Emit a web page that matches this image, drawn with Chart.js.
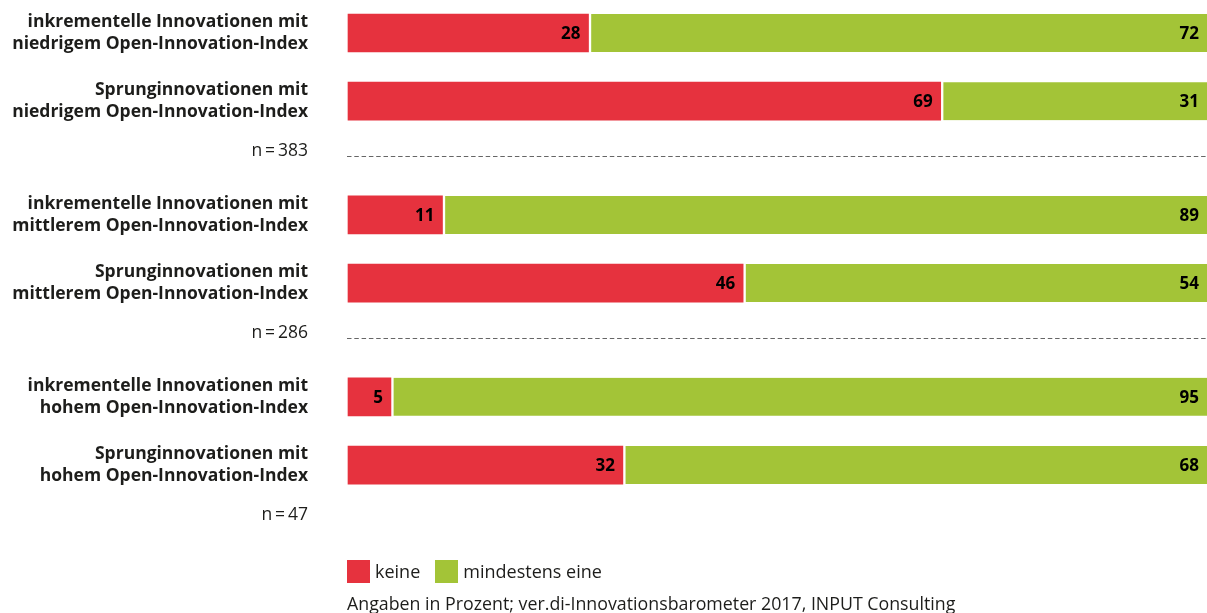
<!DOCTYPE html>
<html>
<head>
<meta charset="utf-8">
<script src="https://cdn.jsdelivr.net/npm/chart.js@4.4.1/dist/chart.umd.min.js"></script>
<style>
    body { margin: 0; background: #fff; font-family: "Open Sans", sans-serif; color: #1d1d1b; }
    #wrap { position: relative; width: 1207px; height: 613px; overflow: hidden; }
    #legend { position: absolute; left: 347px; top: 559px; display: flex; align-items: center; font-size: 18px; }
    #legend .box { width: 23px; height: 23px; margin-right: 5px; }
    #legend .item { display: flex; align-items: center; margin-right: 15px; }
    #source { position: absolute; left: 347px; top: 592px; font-size: 17.8px; line-height: 22px; white-space: nowrap; }
</style>
</head>
<body>
<div id="wrap">
    <canvas id="chart"></canvas>
    <div id="legend"></div>
    <div id="source">Angaben in Prozent; ver.di-Innovationsbarometer 2017, INPUT Consulting</div>
</div>
<script>
var categories = [
    ['inkrementelle Innovationen mit', 'niedrigem Open-Innovation-Index'],
    ['Sprunginnovationen mit', 'niedrigem Open-Innovation-Index'],
    ['inkrementelle Innovationen mit', 'mittlerem Open-Innovation-Index'],
    ['Sprunginnovationen mit', 'mittlerem Open-Innovation-Index'],
    ['inkrementelle Innovationen mit', 'hohem Open-Innovation-Index'],
    ['Sprunginnovationen mit', 'hohem Open-Innovation-Index']
];
var keine = [28, 69, 11, 46, 5, 32];
var mindestens = [72, 31, 89, 54, 95, 68];
var sampleSizes = ['n\u2009=\u2009383', 'n\u2009=\u2009286', 'n\u2009=\u200947'];

var seriesNames = ['keine', 'mindestens eine'];
var seriesColors = ['#e6323e', '#a3c437'];

// each group of two bars takes 8 slots on the category axis (bar, gap, gap, bar, rest for n= and spacing)
var slotCount = 22;
var barSlots = [];
for (let g = 0; g < 3; g++) {
    barSlots.push(g * 8, g * 8 + 3);
}

var labels = [];
var keineData = [];
var mindestensData = [];
for (let i = 0; i < slotCount; i++) {
    let k = barSlots.indexOf(i);
    labels.push(k >= 0 ? categories[k] : '');
    keineData.push(k >= 0 ? keine[k] : null);
    mindestensData.push(k >= 0 ? mindestens[k] : null);
}

var groupPlugin = {
    id: 'groups',
    afterDatasetsDraw: function (chart) {
        let ctx = chart.ctx;
        let y = chart.scales.y;
        let area = chart.chartArea;
        ctx.save();
        for (let g = 0; g < sampleSizes.length; g++) {
            let last = g * 8 + 3;
            ctx.font = '17.5px "Open Sans"';
            ctx.fillStyle = '#1d1d1b';
            ctx.textAlign = 'right';
            ctx.textBaseline = 'middle';
            ctx.fillText(sampleSizes[g], 308, y.getPixelForValue(last + 2.2));

            if (g < sampleSizes.length - 1) {
                let ly = Math.round(y.getPixelForValue(last + 2.4)) + 0.5;
                ctx.beginPath();
                ctx.setLineDash([4.5, 2.8]);
                ctx.strokeStyle = '#666666';
                ctx.lineWidth = 1;
                ctx.moveTo(area.left - 1, ly);
                ctx.lineTo(area.right, ly);
                ctx.stroke();
                ctx.setLineDash([]);
            }
        }

        // value labels at the end of each segment
        ctx.font = 'bold 17px "Open Sans"';
        ctx.fillStyle = '#000';
        ctx.textAlign = 'right';
        ctx.textBaseline = 'middle';
        chart.data.datasets.forEach(function (ds, di) {
            let meta = chart.getDatasetMeta(di);
            meta.data.forEach(function (bar, i) {
                if (ds.data[i] == null) return;
                ctx.fillText(ds.data[i], Math.min(bar.x, 1207) - 8, bar.y + 1);
            });
        });
        ctx.restore();
    }
};

var chart = new Chart(document.getElementById('chart'), {
    type: 'bar',
    data: {
        labels: labels,
        datasets: [
            {
                label: seriesNames[0],
                data: keineData,
                backgroundColor: seriesColors[0],
                borderWidth: 0,
                barThickness: 38,
                clip: false
            },
            {
                label: seriesNames[1],
                data: mindestensData,
                backgroundColor: seriesColors[1],
                borderColor: '#ffffff',
                borderWidth: { left: 3, right: 0, top: 0, bottom: 0 },
                borderSkipped: false,
                barThickness: 38,
                clip: false
            }
        ]
    },
    options: {
        indexAxis: 'y',
        responsive: true,
        maintainAspectRatio: false,
        animation: false,
        layout: { padding: { top: 21.6, bottom: 91.1, left: 0, right: -1 } },
        plugins: {
            legend: { display: false },
            tooltip: { enabled: false }
        },
        scales: {
            x: {
                stacked: true,
                min: 0,
                max: 100,
                display: false
            },
            y: {
                stacked: true,
                grid: {
                    display: true,
                    drawOnChartArea: false,
                    drawTicks: true,
                    tickLength: 40,
                    color: 'rgba(0,0,0,0)'
                },
                border: { display: false },
                afterFit: function (scale) { scale.width = 348; },
                ticks: {
                    autoSkip: false,
                    padding: 0,
                    color: '#1d1d1b',
                    font: { family: '"Open Sans"', size: 17.5, weight: 'bold', lineHeight: 1.26 }
                }
            }
        }
    },
    plugins: [groupPlugin]
});

var legend = document.getElementById('legend');
chart.data.datasets.forEach(function (ds) {
    let item = document.createElement('span');
    item.className = 'item';
    let box = document.createElement('span');
    box.className = 'box';
    box.style.background = ds.backgroundColor;
    item.appendChild(box);
    item.appendChild(document.createTextNode(ds.label));
    legend.appendChild(item);
});
</script>
</body>
</html>
